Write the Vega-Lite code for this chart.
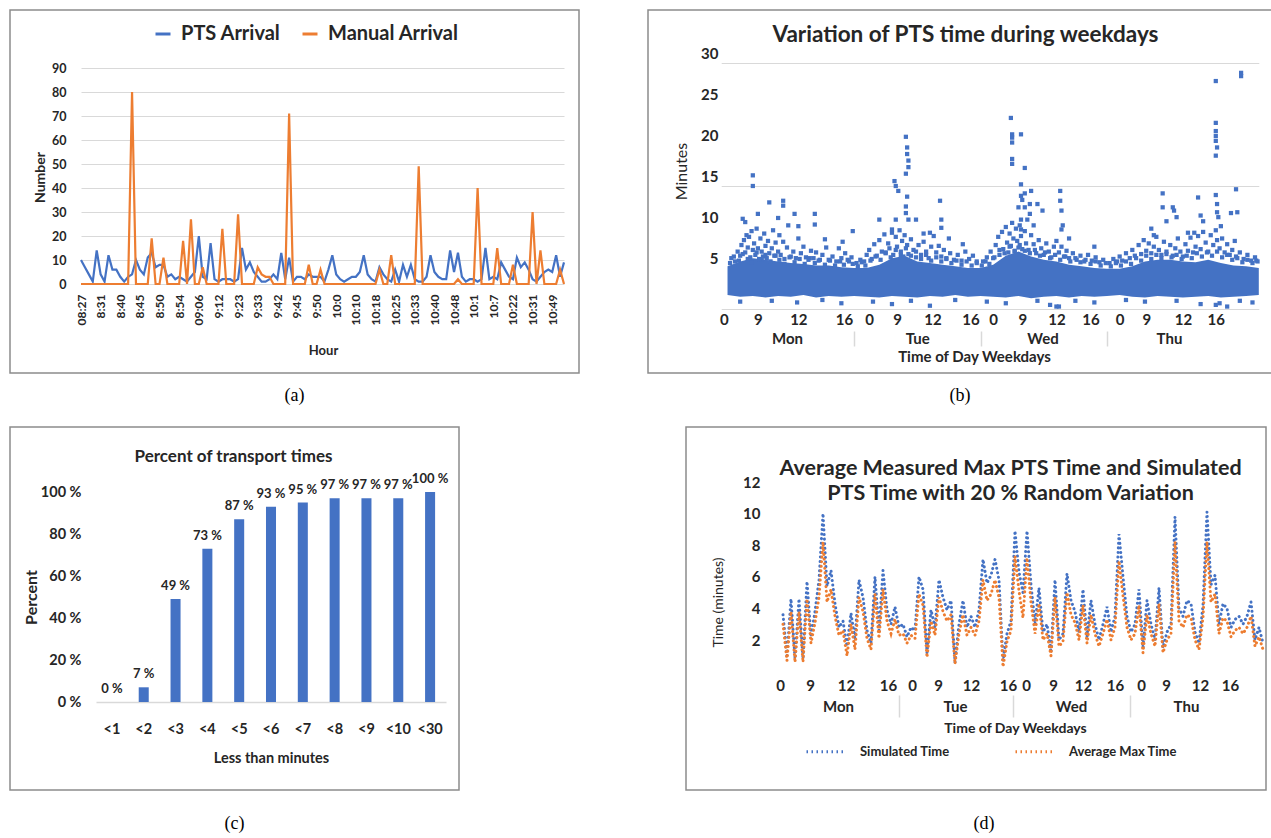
{
"$schema": "https://vega.github.io/schema/vega-lite/v6.json",
"background": "white",
"padding": {"left": 9, "top": 9, "right": 0, "bottom": 0},
"config": {
  "view": {"stroke": "#8c8c8c", "strokeWidth": 1.5},
  "font": "Lato",
  "axis": {"labelFont": "Lato", "titleFont": "Lato", "labelFontWeight": "bold", "titleFontWeight": "bold", "labelColor": "#262626", "titleColor": "#262626", "domain": false, "ticks": false, "tickSize": 0, "grid": false, "labelFlush": false, "labelOverlap": false},
  "legend": {"labelFont": "Lato", "labelFontWeight": "bold", "labelColor": "#262626", "padding": 0},
  "title": {"font": "Liberation Serif", "fontSize": 18, "fontWeight": "normal", "color": "#000000", "orient": "bottom", "anchor": "middle"}
},
"spacing": 20,
"resolve": {"scale": {"color": "independent"}, "legend": {"color": "independent"}},
"vconcat": [
 {"spacing": 67, "resolve": {"scale": {"color": "independent"}, "legend": {"color": "independent"}}, "hconcat": [
  {
   "width": 569, "height": 363,
   "title": {"text": "(a)", "offset": 14},
   "data": {"name": "arr"},
   "transform": [{"fold": ["PTS Arrival", "Manual Arrival"], "as": ["series", "value"]}],
   "mark": {"type": "line", "strokeWidth": 2.2},
   "encoding": {
     "x": {"field": "i", "type": "quantitative", "scale": {"domain": [0, 123], "range": [71, 554], "nice": false, "zero": false},
           "axis": {"orient": "bottom", "offset": -89, "values": [0,5,10,15,20,25,30,35,40,45,50,55,60,65,70,75,80,85,90,95,100,105,110,115,120],
                    "labelExpr": "['08:27','8:31','8:40','8:45','8:50','8:54','09:06','9:12','9:23','9:33','9:42','9:45','9:50','10:0','10:10','10:18','10:25','10:33','10:40','10:48','10:1','10:7','10:22','10:31','10:49'][round(datum.value/5)]",
                    "labelAngle": 270, "labelAlign": "right", "labelBaseline": "middle", "labelPadding": 10, "labelFontSize": 12,
                    "title": "Hour", "titleX": 313, "titleY": 66, "titleBaseline": "middle", "titleFontSize": 13}},
     "y": {"field": "value", "type": "quantitative", "scale": {"domain": [0, 90], "range": [274, 58], "nice": false},
           "axis": {"orient": "left", "offset": -63, "values": [0,10,20,30,40,50,60,70,80,90], "grid": true, "gridColor": "#d9d9d9", "gridWidth": 1,
                    "labelPadding": 7, "labelFontSize": 12.5, "title": "Number", "titleX": -33, "titleY": 167, "titleAngle": 270, "titleAlign": "center", "titleBaseline": "middle", "titleFontSize": 14}},
     "color": {"field": "series", "type": "nominal", "scale": {"domain": ["PTS Arrival", "Manual Arrival"], "range": ["#4472C4", "#ED7D31"]},
               "legend": {"orient": "none", "legendX": 143, "legendY": 14, "direction": "horizontal", "title": null, "symbolType": "stroke", "symbolSize": 225, "symbolStrokeWidth": 3, "labelFontSize": 20, "labelOffset": 8, "columnPadding": 15}}
   }
  },
  {
   "width": 624, "height": 363,
   "title": {"text": "(b)", "offset": 14},
   "resolve": {"axis": {"x": "independent", "y": "independent"}},
   "layer": [
    {"data": {"name": "band"}, "mark": {"type": "area", "color": "#4472C4", "opacity": 1},
     "encoding": {
       "x": {"field": "t", "type": "quantitative", "scale": {"domain": [-0.05, 4.2], "range": [73.2, 610.8], "nice": false, "zero": false},
             "axis": {"orient": "bottom", "offset": -64, "values": [-0.03,0.24,0.56,0.92,1.12,1.34,1.62,1.92,2.1,2.33,2.6,2.87,3.1,3.31,3.6,3.86],
                      "labelExpr": "['0','9','12','16','0','9','12','16','0','9','12','16','0','9','12','16'][indexof([-0.03,0.24,0.56,0.92,1.12,1.34,1.62,1.92,2.1,2.33,2.6,2.87,3.1,3.31,3.6,3.86], datum.value)]",
                      "labelPadding": 3, "labelFontSize": 15, "title": null}},
       "y": {"field": "lo", "type": "quantitative", "scale": {"domain": [0, 30], "range": [299, 53], "nice": false, "zero": false},
             "axis": {"orient": "left", "offset": -80, "values": [0,5,10,15,20,25,30], "labelExpr": "datum.value == 0 ? '' : datum.label",
                      "labelPadding": 10, "labelOffset": -10, "labelFontSize": 15, "grid": true, "gridColor": "#d9d9d9", "gridWidth": 1.2,
                      "gridOpacity": {"condition": {"test": "datum.value % 15 == 0", "value": 1}, "value": 0},
                      "title": "Minutes", "titleFontWeight": "normal", "titleFontSize": 16, "titleX": -47, "titleY": 161, "titleAngle": 270, "titleAlign": "center", "titleBaseline": "middle"}},
       "y2": {"field": "hi"}
     }},
    {"data": {"name": "pts"}, "mark": {"type": "square", "size": 18, "color": "#4472C4", "opacity": 1},
     "encoding": {
       "x": {"field": "t", "type": "quantitative", "axis": {"orient": "bottom", "offset": -42, "values": [1,2,3], "ticks": true, "tickSize": 15, "tickColor": "#d9d9d9", "tickWidth": 1.5, "labels": false, "title": null}},
       "y": {"field": "m", "type": "quantitative", "axis": null}
     }},
    {"data": {"name": "dummy"}, "mark": {"type": "point", "opacity": 0},
     "encoding": {"x": {"field": "c", "type": "quantitative", "axis": {"orient": "bottom", "offset": -64, "values": [0.47,1.5,2.49,3.49], "labelExpr": "['Mon','Tue','Wed','Thu'][floor(datum.value)]", "labelPadding": 22.5, "labelFontSize": 15, "title": "Time of Day Weekdays", "titleX": 326, "titleY": 47, "titleBaseline": "middle", "titleFontSize": 15}},
                  "y": {"field": "c", "type": "quantitative", "axis": null}}},
    {"data": {"name": "dummy"}, "mark": {"type": "point", "opacity": 0},
     "encoding": {"x": {"field": "c", "type": "quantitative", "axis": {"orient": "top", "labels": false, "title": "Variation of PTS time during weekdays", "titleX": 317, "titleY": 24, "titleBaseline": "middle", "titleFontSize": 22.5}},
                  "y": {"field": "c", "type": "quantitative", "axis": null}}}
   ]
  }
 ]},
 {"spacing": 225, "resolve": {"scale": {"color": "independent"}, "legend": {"color": "independent"}}, "hconcat": [
  {
   "width": 449, "height": 363,
   "title": {"text": "(c)", "offset": 25},
   "data": {"name": "pct"},
   "resolve": {"axis": {"x": "independent", "y": "independent"}},
   "layer": [
    {"mark": {"type": "bar", "color": "#4472C4"},
     "encoding": {
       "x": {"field": "k", "type": "nominal", "sort": null, "scale": {"type": "band", "range": [86, 436], "paddingInner": 0.685, "paddingOuter": 0.3425},
             "axis": {"orient": "bottom", "offset": -88, "domain": true, "domainColor": "#d9d9d9", "domainWidth": 1.5, "labelAngle": 0, "labelPadding": 20, "labelFontSize": 14.5,
                      "title": "Less than minutes", "titleX": 261, "titleY": 56, "titleBaseline": "middle", "titleFontSize": 14.5}},
       "y": {"field": "p", "type": "quantitative", "scale": {"domain": [0, 100], "range": [275, 65], "nice": false},
             "axis": {"orient": "left", "offset": -80, "values": [0,20,40,60,80,100], "labelExpr": "datum.value + ' %'", "labelPadding": 9, "labelFontSize": 14.5,
                      "title": "Percent", "titleX": -59, "titleY": 170, "titleAngle": 270, "titleAlign": "center", "titleBaseline": "middle", "titleFontSize": 16}}
     }},
    {"mark": {"type": "text", "dy": -9, "baseline": "alphabetic", "fontSize": 13, "fontWeight": "bold", "font": "Lato", "color": "#262626"},
     "encoding": {
       "x": {"field": "k", "type": "nominal", "sort": null, "axis": {"orient": "top", "labels": false, "title": "Percent of transport times", "titleX": 223, "titleY": 29, "titleBaseline": "middle", "titleFontSize": 17}},
       "y": {"field": "p", "type": "quantitative", "axis": null},
       "text": {"field": "lab"}
     }}
   ]
  },
  {
   "width": 580, "height": 363,
   "title": {"text": "(d)", "offset": 25, "dx": 8},
   "resolve": {"axis": {"x": "independent", "y": "independent"}},
   "layer": [
    {"data": {"name": "sim"}, "transform": [{"fold": ["Simulated Time", "Average Max Time"], "as": ["series", "value"]}],
     "mark": {"type": "line", "strokeWidth": 3, "strokeDash": [0.1, 4.5], "strokeCap": "round"},
     "encoding": {
       "x": {"field": "j", "type": "quantitative", "scale": {"domain": [-1, 120], "range": [93, 577], "nice": false, "zero": false},
             "axis": {"orient": "bottom", "offset": -118, "values": [-0.75,6.75,15.75,26.25,32.25,38.75,47,56.25,60.75,67.5,75,83,89.5,95.75,104.25,111.75],
                      "labelExpr": "['0','9','12','16','0','9','12','16','0','9','12','16','0','9','12','16'][indexof([-0.75,6.75,15.75,26.25,32.25,38.75,47,56.25,60.75,67.5,75,83,89.5,95.75,104.25,111.75], datum.value)]",
                      "labelPadding": 6.5, "labelFontSize": 15, "title": null}},
       "y": {"field": "value", "type": "quantitative", "scale": {"domain": [0, 12], "range": [244.6, 55], "nice": false},
             "axis": {"orient": "left", "offset": -80, "values": [2,4,6,8,10,12], "labelPadding": 6, "labelFontSize": 15,
                      "title": "Time (minutes)", "titleFontWeight": "normal", "titleFontSize": 14, "titleX": -48, "titleY": 175, "titleAngle": 270, "titleAlign": "center", "titleBaseline": "middle"}},
       "color": {"field": "series", "type": "nominal", "scale": {"domain": ["Simulated Time", "Average Max Time"], "range": ["#4472C4", "#ED7D31"]},
                 "legend": {"orient": "none", "legendX": 119, "legendY": 303, "direction": "horizontal", "title": null, "symbolType": "stroke", "symbolSize": 1600, "symbolStrokeWidth": 3, "symbolDash": [1.5, 3.5], "labelFontSize": 13, "labelOffset": 12, "columnPadding": 59}}
     }},
    {"data": {"name": "dummy"}, "mark": {"type": "point", "opacity": 0},
     "encoding": {"x": {"field": "c", "type": "quantitative", "axis": {"orient": "bottom", "offset": -118, "values": [13.75,43,72,100.75], "labelExpr": "['Mon','Tue','Wed','Thu'][indexof([13.75,43,72,100.75], datum.value)]", "labelPadding": 27.5, "labelFontSize": 15, "title": "Time of Day Weekdays", "titleX": 329, "titleY": 56, "titleBaseline": "middle", "titleFontSize": 14}},
                  "y": {"field": "c", "type": "quantitative", "axis": null}}},
    {"data": {"name": "dummy"}, "mark": {"type": "point", "opacity": 0},
     "encoding": {"x": {"field": "c", "type": "quantitative", "axis": {"orient": "bottom", "offset": -95, "values": [29,57.5,86.75], "ticks": true, "tickSize": 22, "tickColor": "#d9d9d9", "tickWidth": 1.5, "labels": false, "title": null}},
                  "y": {"field": "c", "type": "quantitative", "axis": null}}},
    {"data": {"name": "dummy"}, "mark": {"type": "point", "opacity": 0},
     "encoding": {"x": {"field": "c", "type": "quantitative", "axis": {"orient": "top", "labels": false, "title": ["Average Measured Max PTS Time and Simulated", "PTS Time with 20 % Random Variation"], "titleX": 324, "titleY": 41, "titleBaseline": "middle", "titleLineHeight": 25, "titleFontSize": 21.5}},
                  "y": {"field": "c", "type": "quantitative", "axis": null}}}
   ]
  }
 ]}
],
"datasets": {
 "dummy": [{"c": 1}],
 "pct": [
  {"k": "<1", "p": 0, "lab": "0 %"}, {"k": "<2", "p": 7, "lab": "7 %"}, {"k": "<3", "p": 49, "lab": "49 %"}, {"k": "<4", "p": 73, "lab": "73 %"},
  {"k": "<5", "p": 87, "lab": "87 %"}, {"k": "<6", "p": 93, "lab": "93 %"}, {"k": "<7", "p": 95, "lab": "95 %"}, {"k": "<8", "p": 97, "lab": "97 %"},
  {"k": "<9", "p": 97, "lab": "97 %"}, {"k": "<10", "p": 97, "lab": "97 %"}, {"k": "<30", "p": 100, "lab": "100 %"}
 ],
 "arr": [
  {"i":0,"PTS Arrival":10,"Manual Arrival":0},{"i":1,"PTS Arrival":7,"Manual Arrival":0},{"i":2,"PTS Arrival":4,"Manual Arrival":0},{"i":3,"PTS Arrival":1,"Manual Arrival":0},
  {"i":4,"PTS Arrival":14,"Manual Arrival":0},{"i":5,"PTS Arrival":4,"Manual Arrival":0},{"i":6,"PTS Arrival":1,"Manual Arrival":0},{"i":7,"PTS Arrival":12,"Manual Arrival":0},
  {"i":8,"PTS Arrival":6,"Manual Arrival":0},{"i":9,"PTS Arrival":6,"Manual Arrival":0},{"i":10,"PTS Arrival":3,"Manual Arrival":0},{"i":11,"PTS Arrival":1,"Manual Arrival":0},
  {"i":12,"PTS Arrival":3,"Manual Arrival":0},{"i":13,"PTS Arrival":4,"Manual Arrival":80},{"i":14,"PTS Arrival":10,"Manual Arrival":0},{"i":15,"PTS Arrival":6,"Manual Arrival":0},
  {"i":16,"PTS Arrival":4,"Manual Arrival":0},{"i":17,"PTS Arrival":11,"Manual Arrival":0},{"i":18,"PTS Arrival":13,"Manual Arrival":19},{"i":19,"PTS Arrival":7,"Manual Arrival":0},
  {"i":20,"PTS Arrival":8,"Manual Arrival":0},{"i":21,"PTS Arrival":8,"Manual Arrival":11},{"i":22,"PTS Arrival":3,"Manual Arrival":0},{"i":23,"PTS Arrival":4,"Manual Arrival":0},
  {"i":24,"PTS Arrival":2,"Manual Arrival":0},{"i":25,"PTS Arrival":3,"Manual Arrival":0},{"i":26,"PTS Arrival":2,"Manual Arrival":18},{"i":27,"PTS Arrival":1,"Manual Arrival":0},
  {"i":28,"PTS Arrival":3,"Manual Arrival":27},{"i":29,"PTS Arrival":5,"Manual Arrival":0},{"i":30,"PTS Arrival":20,"Manual Arrival":0},{"i":31,"PTS Arrival":3,"Manual Arrival":7},
  {"i":32,"PTS Arrival":2,"Manual Arrival":0},{"i":33,"PTS Arrival":17,"Manual Arrival":0},{"i":34,"PTS Arrival":2,"Manual Arrival":0},{"i":35,"PTS Arrival":1,"Manual Arrival":0},
  {"i":36,"PTS Arrival":2,"Manual Arrival":23},{"i":37,"PTS Arrival":2,"Manual Arrival":0},{"i":38,"PTS Arrival":2,"Manual Arrival":0},{"i":39,"PTS Arrival":1,"Manual Arrival":0},
  {"i":40,"PTS Arrival":2,"Manual Arrival":29},{"i":41,"PTS Arrival":15,"Manual Arrival":0},{"i":42,"PTS Arrival":6,"Manual Arrival":0},{"i":43,"PTS Arrival":9,"Manual Arrival":0},
  {"i":44,"PTS Arrival":5,"Manual Arrival":0},{"i":45,"PTS Arrival":3,"Manual Arrival":7},{"i":46,"PTS Arrival":1,"Manual Arrival":4},{"i":47,"PTS Arrival":1,"Manual Arrival":3},
  {"i":48,"PTS Arrival":2,"Manual Arrival":3},{"i":49,"PTS Arrival":4,"Manual Arrival":0},{"i":50,"PTS Arrival":2,"Manual Arrival":0},{"i":51,"PTS Arrival":13,"Manual Arrival":0},
  {"i":52,"PTS Arrival":2,"Manual Arrival":0},{"i":53,"PTS Arrival":11,"Manual Arrival":71},{"i":54,"PTS Arrival":1,"Manual Arrival":0},{"i":55,"PTS Arrival":3,"Manual Arrival":0},
  {"i":56,"PTS Arrival":3,"Manual Arrival":0},{"i":57,"PTS Arrival":2,"Manual Arrival":0},{"i":58,"PTS Arrival":4,"Manual Arrival":8},{"i":59,"PTS Arrival":3,"Manual Arrival":0},
  {"i":60,"PTS Arrival":3,"Manual Arrival":0},{"i":61,"PTS Arrival":3,"Manual Arrival":6},{"i":62,"PTS Arrival":1,"Manual Arrival":0},{"i":63,"PTS Arrival":6,"Manual Arrival":0},
  {"i":64,"PTS Arrival":12,"Manual Arrival":0},{"i":65,"PTS Arrival":4,"Manual Arrival":0},{"i":66,"PTS Arrival":2,"Manual Arrival":0},{"i":67,"PTS Arrival":1,"Manual Arrival":0},
  {"i":68,"PTS Arrival":2,"Manual Arrival":0},{"i":69,"PTS Arrival":3,"Manual Arrival":0},{"i":70,"PTS Arrival":3,"Manual Arrival":0},{"i":71,"PTS Arrival":5,"Manual Arrival":0},
  {"i":72,"PTS Arrival":12,"Manual Arrival":0},{"i":73,"PTS Arrival":4,"Manual Arrival":0},{"i":74,"PTS Arrival":2,"Manual Arrival":0},{"i":75,"PTS Arrival":1,"Manual Arrival":0},
  {"i":76,"PTS Arrival":7,"Manual Arrival":6},{"i":77,"PTS Arrival":4,"Manual Arrival":0},{"i":78,"PTS Arrival":2,"Manual Arrival":0},{"i":79,"PTS Arrival":1,"Manual Arrival":12},
  {"i":80,"PTS Arrival":6,"Manual Arrival":0},{"i":81,"PTS Arrival":1,"Manual Arrival":0},{"i":82,"PTS Arrival":8,"Manual Arrival":0},{"i":83,"PTS Arrival":3,"Manual Arrival":0},
  {"i":84,"PTS Arrival":8,"Manual Arrival":0},{"i":85,"PTS Arrival":2,"Manual Arrival":0},{"i":86,"PTS Arrival":1,"Manual Arrival":49},{"i":87,"PTS Arrival":1,"Manual Arrival":0},
  {"i":88,"PTS Arrival":3,"Manual Arrival":0},{"i":89,"PTS Arrival":12,"Manual Arrival":0},{"i":90,"PTS Arrival":5,"Manual Arrival":0},{"i":91,"PTS Arrival":3,"Manual Arrival":0},
  {"i":92,"PTS Arrival":2,"Manual Arrival":0},{"i":93,"PTS Arrival":2,"Manual Arrival":0},{"i":94,"PTS Arrival":14,"Manual Arrival":0},{"i":95,"PTS Arrival":5,"Manual Arrival":0},
  {"i":96,"PTS Arrival":13,"Manual Arrival":2},{"i":97,"PTS Arrival":3,"Manual Arrival":0},{"i":98,"PTS Arrival":1,"Manual Arrival":0},{"i":99,"PTS Arrival":2,"Manual Arrival":0},
  {"i":100,"PTS Arrival":2,"Manual Arrival":0},{"i":101,"PTS Arrival":1,"Manual Arrival":40},{"i":102,"PTS Arrival":2,"Manual Arrival":0},{"i":103,"PTS Arrival":15,"Manual Arrival":0},
  {"i":104,"PTS Arrival":2,"Manual Arrival":0},{"i":105,"PTS Arrival":3,"Manual Arrival":0},{"i":106,"PTS Arrival":2,"Manual Arrival":15},{"i":107,"PTS Arrival":9,"Manual Arrival":0},
  {"i":108,"PTS Arrival":6,"Manual Arrival":0},{"i":109,"PTS Arrival":3,"Manual Arrival":0},{"i":110,"PTS Arrival":2,"Manual Arrival":8},{"i":111,"PTS Arrival":11,"Manual Arrival":0},
  {"i":112,"PTS Arrival":7,"Manual Arrival":0},{"i":113,"PTS Arrival":9,"Manual Arrival":0},{"i":114,"PTS Arrival":6,"Manual Arrival":0},{"i":115,"PTS Arrival":2,"Manual Arrival":30},
  {"i":116,"PTS Arrival":1,"Manual Arrival":0},{"i":117,"PTS Arrival":3,"Manual Arrival":14},{"i":118,"PTS Arrival":5,"Manual Arrival":0},{"i":119,"PTS Arrival":6,"Manual Arrival":0},
  {"i":120,"PTS Arrival":5,"Manual Arrival":0},{"i":121,"PTS Arrival":12,"Manual Arrival":0},{"i":122,"PTS Arrival":3,"Manual Arrival":6},{"i":123,"PTS Arrival":9,"Manual Arrival":0}
 ],
 "band": [
  {"t":0,"lo":1.7,"hi":5.2},{"t":0.1,"lo":1.5,"hi":5.8},{"t":0.2,"lo":1.6,"hi":6.2},{"t":0.3,"lo":1.4,"hi":6.0},{"t":0.4,"lo":1.6,"hi":5.8},
  {"t":0.5,"lo":1.5,"hi":5.6},{"t":0.6,"lo":1.7,"hi":5.5},{"t":0.7,"lo":1.4,"hi":5.3},{"t":0.8,"lo":1.6,"hi":5.3},{"t":0.9,"lo":1.5,"hi":5.1},
  {"t":1.0,"lo":1.6,"hi":5.0},{"t":1.1,"lo":1.5,"hi":5.0},{"t":1.2,"lo":1.4,"hi":5.4},{"t":1.3,"lo":1.6,"hi":6.2},{"t":1.4,"lo":1.5,"hi":6.5},
  {"t":1.5,"lo":1.4,"hi":5.8},{"t":1.6,"lo":1.6,"hi":5.6},{"t":1.7,"lo":1.5,"hi":5.4},{"t":1.8,"lo":1.7,"hi":5.2},{"t":1.9,"lo":1.5,"hi":5.0},
  {"t":2.0,"lo":1.6,"hi":5.0},{"t":2.1,"lo":1.5,"hi":5.4},{"t":2.2,"lo":1.4,"hi":6.5},{"t":2.3,"lo":1.6,"hi":7.0},{"t":2.4,"lo":1.3,"hi":6.4},
  {"t":2.5,"lo":1.5,"hi":6.0},{"t":2.6,"lo":1.6,"hi":5.8},{"t":2.7,"lo":1.4,"hi":5.4},{"t":2.8,"lo":1.6,"hi":5.2},{"t":2.9,"lo":1.5,"hi":5.0},
  {"t":3.0,"lo":1.6,"hi":4.9},{"t":3.1,"lo":1.7,"hi":4.9},{"t":3.2,"lo":1.5,"hi":5.2},{"t":3.3,"lo":1.4,"hi":5.8},{"t":3.4,"lo":1.6,"hi":6.0},
  {"t":3.5,"lo":1.5,"hi":6.0},{"t":3.6,"lo":1.4,"hi":5.8},{"t":3.7,"lo":1.5,"hi":5.7},{"t":3.8,"lo":1.6,"hi":6.0},{"t":3.9,"lo":1.4,"hi":5.6},
  {"t":4.0,"lo":1.5,"hi":5.3},{"t":4.1,"lo":1.6,"hi":5.2},{"t":4.2,"lo":1.7,"hi":5.0}
 ],
 "pts": [
  {"t":0.02,"m":5.6},{"t":0.05,"m":6.4},{"t":0.09,"m":5.9},{"t":0.12,"m":6.7},{"t":0.16,"m":6.1},{"t":0.19,"m":5.7},{"t":0.23,"m":6.9},{"t":0.27,"m":6.0},{"t":0.3,"m":6.6},{"t":0.34,"m":5.8},
  {"t":0.38,"m":6.5},{"t":0.41,"m":6.0},{"t":0.45,"m":5.5},{"t":0.49,"m":6.3},{"t":0.53,"m":5.7},{"t":0.57,"m":6.1},{"t":0.61,"m":5.5},{"t":0.65,"m":6.2},{"t":0.69,"m":5.6},{"t":0.73,"m":6.0},
  {"t":0.77,"m":5.4},{"t":0.81,"m":5.9},{"t":0.85,"m":5.3},{"t":0.89,"m":5.8},{"t":0.92,"m":5.4},{"t":0.95,"m":6.0},{"t":0.99,"m":5.5},
  {"t":1.03,"m":5.2},{"t":1.06,"m":5.7},{"t":1.09,"m":5.3},{"t":1.13,"m":5.9},{"t":1.17,"m":6.4},{"t":1.21,"m":6.0},{"t":1.25,"m":6.9},{"t":1.29,"m":6.3},{"t":1.33,"m":7.2},{"t":1.37,"m":6.6},
  {"t":1.41,"m":7.4},{"t":1.45,"m":6.5},{"t":1.49,"m":7.0},{"t":1.53,"m":6.1},{"t":1.57,"m":6.6},{"t":1.61,"m":5.9},{"t":1.65,"m":6.3},{"t":1.69,"m":5.8},{"t":1.73,"m":6.2},{"t":1.77,"m":5.6},
  {"t":1.81,"m":5.9},{"t":1.85,"m":5.4},{"t":1.89,"m":5.8},{"t":1.93,"m":5.3},{"t":1.97,"m":5.6},
  {"t":2.01,"m":5.3},{"t":2.04,"m":5.8},{"t":2.07,"m":5.5},{"t":2.11,"m":6.3},{"t":2.15,"m":7.2},{"t":2.19,"m":6.8},{"t":2.23,"m":7.6},{"t":2.27,"m":7.0},{"t":2.31,"m":7.8},{"t":2.35,"m":7.1},
  {"t":2.39,"m":6.8},{"t":2.43,"m":7.2},{"t":2.47,"m":6.5},{"t":2.51,"m":6.9},{"t":2.55,"m":6.2},{"t":2.59,"m":6.6},{"t":2.63,"m":6.0},{"t":2.67,"m":6.4},{"t":2.71,"m":5.8},{"t":2.75,"m":6.2},
  {"t":2.79,"m":5.7},{"t":2.83,"m":6.0},{"t":2.87,"m":5.5},{"t":2.91,"m":5.8},{"t":2.95,"m":5.3},{"t":2.99,"m":5.6},
  {"t":3.03,"m":5.2},{"t":3.07,"m":5.6},{"t":3.11,"m":5.3},{"t":3.15,"m":5.8},{"t":3.19,"m":5.5},{"t":3.23,"m":6.2},{"t":3.27,"m":5.9},{"t":3.31,"m":6.5},{"t":3.35,"m":6.1},{"t":3.39,"m":6.6},
  {"t":3.43,"m":6.2},{"t":3.47,"m":6.7},{"t":3.51,"m":6.3},{"t":3.55,"m":6.6},{"t":3.59,"m":6.1},{"t":3.63,"m":6.5},{"t":3.67,"m":6.2},{"t":3.71,"m":6.8},{"t":3.75,"m":6.4},{"t":3.79,"m":6.9},
  {"t":3.83,"m":6.5},{"t":3.87,"m":7.0},{"t":3.91,"m":6.3},{"t":3.95,"m":6.6},{"t":3.99,"m":6.0},{"t":4.03,"m":6.2},{"t":4.07,"m":5.7},{"t":4.11,"m":6.0},{"t":4.15,"m":5.6},{"t":4.18,"m":5.9},
  {"t":0.03,"m":6.2},{"t":0.06,"m":5.8},{"t":0.08,"m":7.0},{"t":0.1,"m":6.5},{"t":0.11,"m":7.8},{"t":0.13,"m":8.4},{"t":0.14,"m":6.9},{"t":0.15,"m":9.0},{"t":0.16,"m":7.5},{"t":0.17,"m":8.8},
  {"t":0.18,"m":6.3},{"t":0.19,"m":9.5},{"t":0.2,"m":7.2},{"t":0.21,"m":8.0},{"t":0.22,"m":6.6},{"t":0.23,"m":9.8},{"t":0.24,"m":7.4},{"t":0.25,"m":6.1},{"t":0.26,"m":8.6},{"t":0.27,"m":7.0},
  {"t":0.28,"m":6.4},{"t":0.29,"m":9.2},{"t":0.3,"m":7.7},{"t":0.31,"m":6.2},{"t":0.32,"m":8.3},{"t":0.33,"m":6.8},{"t":0.35,"m":7.4},{"t":0.36,"m":9.6},{"t":0.37,"m":6.5},{"t":0.38,"m":8.1},
  {"t":0.4,"m":7.0},{"t":0.41,"m":9.0},{"t":0.42,"m":6.6},{"t":0.44,"m":8.2},{"t":0.45,"m":6.1},{"t":0.47,"m":7.5},{"t":0.48,"m":10.2},{"t":0.5,"m":6.4},{"t":0.52,"m":7.0},{"t":0.54,"m":6.2},
  {"t":0.56,"m":8.6},{"t":0.58,"m":6.8},{"t":0.6,"m":7.6},{"t":0.62,"m":6.3},{"t":0.64,"m":6.0},{"t":0.66,"m":7.1},{"t":0.68,"m":6.2},{"t":0.7,"m":6.9},{"t":0.72,"m":5.9},{"t":0.75,"m":6.6},
  {"t":0.78,"m":7.5},{"t":0.8,"m":6.0},{"t":0.83,"m":6.4},{"t":0.86,"m":5.8},{"t":0.88,"m":7.4},{"t":0.9,"m":6.2},{"t":0.93,"m":6.8},{"t":0.96,"m":5.8},{"t":0.98,"m":6.3},
  {"t":0.2,"m":16.3},{"t":0.2,"m":15.0},{"t":0.24,"m":11.6},{"t":0.12,"m":11.0},{"t":0.14,"m":10.6},{"t":0.33,"m":13.0},{"t":0.44,"m":13.2},{"t":0.44,"m":12.6},{"t":0.4,"m":11.1},{"t":0.53,"m":11.6},
  {"t":0.56,"m":10.1},{"t":0.69,"m":11.6},{"t":0.69,"m":10.3},{"t":0.77,"m":8.5},{"t":0.91,"m":8.2},{"t":0.99,"m":9.5},
  {"t":1.02,"m":5.6},{"t":1.05,"m":6.0},{"t":1.08,"m":5.8},{"t":1.1,"m":6.6},{"t":1.12,"m":7.2},{"t":1.14,"m":6.1},{"t":1.16,"m":7.9},{"t":1.18,"m":6.5},{"t":1.2,"m":8.4},{"t":1.22,"m":7.0},
  {"t":1.24,"m":9.1},{"t":1.25,"m":6.8},{"t":1.27,"m":8.0},{"t":1.28,"m":7.4},{"t":1.3,"m":9.3},{"t":1.31,"m":6.6},{"t":1.33,"m":8.8},{"t":1.34,"m":7.6},{"t":1.36,"m":9.6},{"t":1.37,"m":7.0},
  {"t":1.38,"m":8.3},{"t":1.39,"m":6.4},{"t":1.4,"m":9.0},{"t":1.42,"m":7.8},{"t":1.43,"m":6.7},{"t":1.45,"m":8.5},{"t":1.47,"m":7.2},{"t":1.49,"m":6.3},{"t":1.51,"m":7.8},{"t":1.53,"m":6.6},
  {"t":1.55,"m":8.2},{"t":1.57,"m":7.0},{"t":1.59,"m":6.2},{"t":1.61,"m":7.6},{"t":1.63,"m":8.9},{"t":1.65,"m":6.9},{"t":1.67,"m":7.7},{"t":1.69,"m":6.4},{"t":1.71,"m":7.2},{"t":1.73,"m":6.1},
  {"t":1.76,"m":6.8},{"t":1.79,"m":6.0},{"t":1.82,"m":6.6},{"t":1.85,"m":5.9},{"t":1.88,"m":7.0},{"t":1.91,"m":6.1},{"t":1.94,"m":6.5},{"t":1.97,"m":5.8},
  {"t":1.32,"m":15.6},{"t":1.33,"m":15.0},{"t":1.35,"m":14.4},{"t":1.41,"m":21.0},{"t":1.42,"m":19.7},{"t":1.42,"m":18.9},{"t":1.43,"m":18.1},{"t":1.43,"m":17.3},{"t":1.41,"m":16.5},{"t":1.42,"m":13.7},
  {"t":1.41,"m":12.5},{"t":1.41,"m":11.7},{"t":1.43,"m":10.9},{"t":1.49,"m":10.9},{"t":1.68,"m":13.2},{"t":1.69,"m":10.9},{"t":1.69,"m":9.9},{"t":1.6,"m":9.3},{"t":1.33,"m":10.9},{"t":1.2,"m":10.9},
  {"t":1.3,"m":9.7},{"t":1.55,"m":9.2},{"t":1.75,"m":8.6},{"t":1.86,"m":7.9},
  {"t":2.02,"m":5.8},{"t":2.05,"m":6.3},{"t":2.08,"m":7.0},{"t":2.1,"m":6.2},{"t":2.12,"m":7.8},{"t":2.14,"m":8.8},{"t":2.15,"m":6.6},{"t":2.17,"m":9.4},{"t":2.18,"m":7.3},{"t":2.2,"m":10.0},
  {"t":2.21,"m":8.1},{"t":2.22,"m":6.9},{"t":2.23,"m":9.2},{"t":2.24,"m":7.7},{"t":2.25,"m":10.5},{"t":2.26,"m":8.6},{"t":2.27,"m":7.1},{"t":2.28,"m":9.8},{"t":2.29,"m":8.3},{"t":2.3,"m":7.5},
  {"t":2.31,"m":10.2},{"t":2.32,"m":8.9},{"t":2.33,"m":7.3},{"t":2.35,"m":9.5},{"t":2.36,"m":8.0},{"t":2.38,"m":7.2},{"t":2.4,"m":9.0},{"t":2.42,"m":7.9},{"t":2.44,"m":6.8},{"t":2.46,"m":8.4},
  {"t":2.48,"m":7.4},{"t":2.5,"m":6.6},{"t":2.52,"m":8.0},{"t":2.54,"m":7.0},{"t":2.56,"m":6.3},{"t":2.58,"m":7.6},{"t":2.6,"m":8.3},{"t":2.62,"m":6.9},{"t":2.64,"m":7.6},{"t":2.66,"m":6.4},
  {"t":2.68,"m":7.1},{"t":2.7,"m":6.2},{"t":2.73,"m":6.8},{"t":2.76,"m":6.0},{"t":2.79,"m":6.5},{"t":2.82,"m":5.8},{"t":2.85,"m":6.6},{"t":2.88,"m":5.9},{"t":2.91,"m":6.3},{"t":2.94,"m":5.7},{"t":2.97,"m":6.0},
  {"t":2.24,"m":23.3},{"t":2.25,"m":21.3},{"t":2.25,"m":20.9},{"t":2.25,"m":20.3},{"t":2.32,"m":21.3},{"t":2.25,"m":18.3},{"t":2.25,"m":17.7},{"t":2.35,"m":17.2},{"t":2.32,"m":15.2},{"t":2.32,"m":13.8},
  {"t":2.33,"m":13.3},{"t":2.35,"m":14.1},{"t":2.4,"m":14.4},{"t":2.3,"m":12.4},{"t":2.35,"m":12.4},{"t":2.39,"m":12.8},{"t":2.45,"m":12.8},{"t":2.49,"m":12.0},{"t":2.39,"m":11.6},{"t":2.32,"m":10.9},
  {"t":2.37,"m":10.9},{"t":2.42,"m":10.2},{"t":2.32,"m":9.7},{"t":2.63,"m":14.4},{"t":2.63,"m":13.2},{"t":2.64,"m":12.0},{"t":2.65,"m":10.2},{"t":2.64,"m":9.7},{"t":2.7,"m":8.6},{"t":2.9,"m":7.6},
  {"t":3.02,"m":5.6},{"t":3.05,"m":6.1},{"t":3.08,"m":5.8},{"t":3.1,"m":6.4},{"t":3.12,"m":5.9},{"t":3.15,"m":6.8},{"t":3.18,"m":6.2},{"t":3.2,"m":7.2},{"t":3.22,"m":6.5},{"t":3.25,"m":7.8},
  {"t":3.27,"m":6.7},{"t":3.29,"m":8.4},{"t":3.31,"m":7.1},{"t":3.33,"m":8.0},{"t":3.35,"m":6.8},{"t":3.37,"m":7.6},{"t":3.39,"m":8.8},{"t":3.41,"m":7.2},{"t":3.43,"m":6.6},{"t":3.45,"m":8.2},
  {"t":3.47,"m":7.0},{"t":3.5,"m":7.8},{"t":3.52,"m":6.5},{"t":3.54,"m":7.4},{"t":3.56,"m":8.6},{"t":3.58,"m":7.0},{"t":3.6,"m":6.4},{"t":3.62,"m":7.9},{"t":3.64,"m":7.1},{"t":3.66,"m":8.7},
  {"t":3.68,"m":6.9},{"t":3.7,"m":7.6},{"t":3.72,"m":8.9},{"t":3.74,"m":7.3},{"t":3.76,"m":9.4},{"t":3.78,"m":8.1},{"t":3.8,"m":7.0},{"t":3.82,"m":9.0},{"t":3.84,"m":7.8},{"t":3.86,"m":9.6},
  {"t":3.87,"m":8.4},{"t":3.89,"m":7.4},{"t":3.91,"m":8.6},{"t":3.93,"m":6.9},{"t":3.95,"m":7.9},{"t":3.97,"m":6.6},{"t":3.99,"m":7.2},{"t":4.02,"m":6.4},{"t":4.05,"m":6.9},{"t":4.08,"m":6.1},
  {"t":4.11,"m":6.6},{"t":4.14,"m":5.9},{"t":4.17,"m":6.3},{"t":4.19,"m":5.8},
  {"t":3.44,"m":14.1},{"t":3.44,"m":12.4},{"t":3.52,"m":12.4},{"t":3.53,"m":12.0},{"t":3.55,"m":11.2},{"t":3.72,"m":13.6},{"t":3.74,"m":11.4},{"t":3.76,"m":10.7},{"t":3.86,"m":13.9},{"t":3.86,"m":27.8},
  {"t":3.86,"m":22.7},{"t":3.86,"m":21.7},{"t":3.86,"m":21.1},{"t":3.86,"m":20.5},{"t":3.87,"m":19.7},{"t":3.86,"m":18.7},{"t":3.87,"m":12.8},{"t":3.87,"m":11.8},{"t":3.88,"m":11.2},{"t":4.02,"m":14.6},
  {"t":3.98,"m":11.7},{"t":4.03,"m":11.8},{"t":4.06,"m":28.8},{"t":4.06,"m":28.4},{"t":4.01,"m":8.3},{"t":3.35,"m":9.8},{"t":3.37,"m":9.0},{"t":3.47,"m":10.7},{"t":3.64,"m":9.3},{"t":3.69,"m":9.3},{"t":3.9,"m":10.1},
  {"t":0.1,"m":0.9},{"t":0.35,"m":1.0},{"t":0.55,"m":0.8},{"t":0.75,"m":1.1},{"t":0.9,"m":0.7},{"t":1.15,"m":0.9},{"t":1.3,"m":0.6},{"t":1.45,"m":1.0},{"t":1.6,"m":0.4},{"t":1.8,"m":1.1},
  {"t":2.05,"m":0.9},{"t":2.2,"m":0.7},{"t":2.45,"m":1.0},{"t":2.55,"m":0.5},{"t":2.6,"m":0.3},{"t":2.62,"m":0.3},{"t":2.75,"m":1.0},{"t":2.9,"m":0.8},{"t":3.15,"m":1.1},{"t":3.3,"m":0.9},
  {"t":3.55,"m":1.0},{"t":3.74,"m":0.6},{"t":3.86,"m":0.5},{"t":3.89,"m":0.7},{"t":3.95,"m":0.3},{"t":4.05,"m":1.0},{"t":4.15,"m":0.8}
 ],
 "sim": [
  {"j":0,"Simulated Time":3.6,"Average Max Time":3.0},{"j":1,"Simulated Time":1.0,"Average Max Time":0.7},{"j":2,"Simulated Time":4.6,"Average Max Time":3.8},{"j":3,"Simulated Time":0.8,"Average Max Time":0.6},
  {"j":4,"Simulated Time":4.6,"Average Max Time":3.8},{"j":5,"Simulated Time":0.8,"Average Max Time":0.6},{"j":6,"Simulated Time":5.7,"Average Max Time":4.6},{"j":7,"Simulated Time":2.2,"Average Max Time":1.8},
  {"j":8,"Simulated Time":3.8,"Average Max Time":3.1},{"j":9,"Simulated Time":5.8,"Average Max Time":4.7},{"j":10,"Simulated Time":10.0,"Average Max Time":8.2},{"j":11,"Simulated Time":5.4,"Average Max Time":4.4},
  {"j":12,"Simulated Time":6.4,"Average Max Time":5.2},{"j":13,"Simulated Time":4.3,"Average Max Time":3.5},{"j":14,"Simulated Time":2.8,"Average Max Time":2.3},{"j":15,"Simulated Time":3.2,"Average Max Time":2.6},
  {"j":16,"Simulated Time":1.6,"Average Max Time":1.0},{"j":17,"Simulated Time":3.7,"Average Max Time":3.0},{"j":18,"Simulated Time":2.0,"Average Max Time":1.4},{"j":19,"Simulated Time":5.8,"Average Max Time":4.7},
  {"j":20,"Simulated Time":4.7,"Average Max Time":3.8},{"j":21,"Simulated Time":2.6,"Average Max Time":2.1},{"j":22,"Simulated Time":1.8,"Average Max Time":1.4},{"j":23,"Simulated Time":6.0,"Average Max Time":4.9},
  {"j":24,"Simulated Time":2.6,"Average Max Time":2.1},{"j":25,"Simulated Time":6.4,"Average Max Time":5.2},{"j":26,"Simulated Time":3.9,"Average Max Time":3.2},{"j":27,"Simulated Time":3.0,"Average Max Time":2.4},
  {"j":28,"Simulated Time":4.1,"Average Max Time":3.3},{"j":29,"Simulated Time":2.8,"Average Max Time":2.3},{"j":30,"Simulated Time":3.0,"Average Max Time":2.4},{"j":31,"Simulated Time":2.2,"Average Max Time":1.8},
  {"j":32,"Simulated Time":2.8,"Average Max Time":2.3},{"j":33,"Simulated Time":2.6,"Average Max Time":2.1},{"j":34,"Simulated Time":6.0,"Average Max Time":4.9},{"j":35,"Simulated Time":5.2,"Average Max Time":4.2},
  {"j":36,"Simulated Time":1.2,"Average Max Time":0.9},{"j":37,"Simulated Time":3.9,"Average Max Time":3.2},{"j":38,"Simulated Time":2.8,"Average Max Time":2.3},{"j":39,"Simulated Time":5.8,"Average Max Time":4.7},
  {"j":40,"Simulated Time":4.7,"Average Max Time":3.8},{"j":41,"Simulated Time":3.9,"Average Max Time":3.2},{"j":42,"Simulated Time":4.5,"Average Max Time":3.6},{"j":43,"Simulated Time":0.6,"Average Max Time":0.5},
  {"j":44,"Simulated Time":3.0,"Average Max Time":2.4},{"j":45,"Simulated Time":4.5,"Average Max Time":3.6},{"j":46,"Simulated Time":2.8,"Average Max Time":2.3},{"j":47,"Simulated Time":3.5,"Average Max Time":2.8},
  {"j":48,"Simulated Time":2.8,"Average Max Time":2.3},{"j":49,"Simulated Time":3.9,"Average Max Time":3.2},{"j":50,"Simulated Time":7.1,"Average Max Time":5.8},{"j":51,"Simulated Time":5.6,"Average Max Time":4.5},
  {"j":52,"Simulated Time":6.1,"Average Max Time":4.9},{"j":53,"Simulated Time":7.1,"Average Max Time":5.8},{"j":54,"Simulated Time":5.8,"Average Max Time":4.7},{"j":55,"Simulated Time":0.7,"Average Max Time":0.3},
  {"j":56,"Simulated Time":2.4,"Average Max Time":1.9},{"j":57,"Simulated Time":3.2,"Average Max Time":2.6},{"j":58,"Simulated Time":8.9,"Average Max Time":7.3},{"j":59,"Simulated Time":6.3,"Average Max Time":5.1},
  {"j":60,"Simulated Time":5.0,"Average Max Time":3.4},{"j":61,"Simulated Time":8.9,"Average Max Time":7.2},{"j":62,"Simulated Time":5.5,"Average Max Time":4.4},{"j":63,"Simulated Time":3.0,"Average Max Time":2.4},
  {"j":64,"Simulated Time":5.3,"Average Max Time":4.3},{"j":65,"Simulated Time":2.5,"Average Max Time":2.0},{"j":66,"Simulated Time":3.0,"Average Max Time":2.4},{"j":67,"Simulated Time":1.2,"Average Max Time":1.0},
  {"j":68,"Simulated Time":5.8,"Average Max Time":4.7},{"j":69,"Simulated Time":2.0,"Average Max Time":1.6},{"j":70,"Simulated Time":2.4,"Average Max Time":1.9},{"j":71,"Simulated Time":6.2,"Average Max Time":5.0},
  {"j":72,"Simulated Time":4.5,"Average Max Time":3.6},{"j":73,"Simulated Time":3.8,"Average Max Time":3.1},{"j":74,"Simulated Time":2.5,"Average Max Time":2.0},{"j":75,"Simulated Time":5.2,"Average Max Time":4.2},
  {"j":76,"Simulated Time":2.2,"Average Max Time":1.8},{"j":77,"Simulated Time":4.5,"Average Max Time":3.6},{"j":78,"Simulated Time":3.0,"Average Max Time":2.4},{"j":79,"Simulated Time":2.0,"Average Max Time":1.6},
  {"j":80,"Simulated Time":3.0,"Average Max Time":2.4},{"j":81,"Simulated Time":4.1,"Average Max Time":3.3},{"j":82,"Simulated Time":2.5,"Average Max Time":2.0},{"j":83,"Simulated Time":3.5,"Average Max Time":2.8},
  {"j":84,"Simulated Time":8.7,"Average Max Time":7.0},{"j":85,"Simulated Time":6.0,"Average Max Time":4.8},{"j":86,"Simulated Time":3.5,"Average Max Time":2.8},{"j":87,"Simulated Time":2.5,"Average Max Time":2.0},
  {"j":88,"Simulated Time":3.0,"Average Max Time":2.4},{"j":89,"Simulated Time":5.2,"Average Max Time":4.2},{"j":90,"Simulated Time":1.5,"Average Max Time":1.2},{"j":91,"Simulated Time":4.5,"Average Max Time":3.6},
  {"j":92,"Simulated Time":3.0,"Average Max Time":2.4},{"j":93,"Simulated Time":2.0,"Average Max Time":1.6},{"j":94,"Simulated Time":5.3,"Average Max Time":4.3},{"j":95,"Simulated Time":1.5,"Average Max Time":1.2},
  {"j":96,"Simulated Time":2.5,"Average Max Time":2.0},{"j":97,"Simulated Time":3.0,"Average Max Time":2.4},{"j":98,"Simulated Time":9.8,"Average Max Time":8.2},{"j":99,"Simulated Time":4.0,"Average Max Time":3.2},
  {"j":100,"Simulated Time":3.5,"Average Max Time":2.8},{"j":101,"Simulated Time":4.5,"Average Max Time":3.6},{"j":102,"Simulated Time":4.3,"Average Max Time":3.4},{"j":103,"Simulated Time":2.5,"Average Max Time":2.0},
  {"j":104,"Simulated Time":1.8,"Average Max Time":1.4},{"j":105,"Simulated Time":4.2,"Average Max Time":3.4},{"j":106,"Simulated Time":10.1,"Average Max Time":8.2},{"j":107,"Simulated Time":5.5,"Average Max Time":4.4},
  {"j":108,"Simulated Time":6.1,"Average Max Time":4.9},{"j":109,"Simulated Time":3.0,"Average Max Time":2.4},{"j":110,"Simulated Time":4.3,"Average Max Time":3.4},{"j":111,"Simulated Time":4.0,"Average Max Time":3.2},
  {"j":112,"Simulated Time":2.8,"Average Max Time":2.2},{"j":113,"Simulated Time":3.3,"Average Max Time":2.6},{"j":114,"Simulated Time":3.5,"Average Max Time":2.8},{"j":115,"Simulated Time":3.0,"Average Max Time":2.4},
  {"j":116,"Simulated Time":3.5,"Average Max Time":2.8},{"j":117,"Simulated Time":4.4,"Average Max Time":3.5},{"j":118,"Simulated Time":2.0,"Average Max Time":1.6},{"j":119,"Simulated Time":2.8,"Average Max Time":2.2},
  {"j":120,"Simulated Time":1.8,"Average Max Time":1.4}
 ]
}
}
